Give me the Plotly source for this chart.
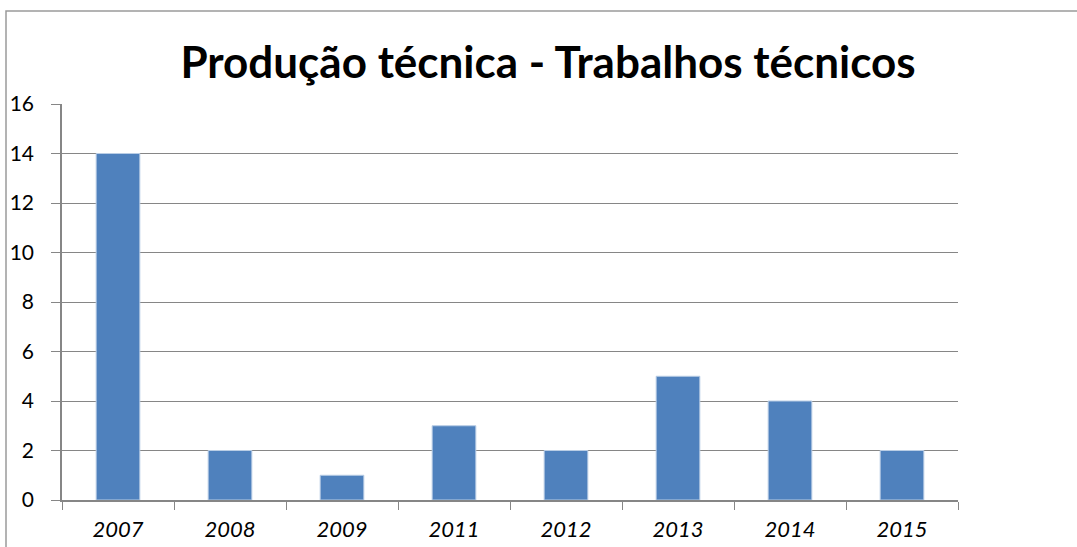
import plotly.graph_objects as go

years = ["2007", "2008", "2009", "2011", "2012", "2013", "2014", "2015"]
values = [14, 2, 1, 3, 2, 5, 4, 2]
y_ticks = [0, 2, 4, 6, 8, 10, 12, 14, 16]
title_text = "Produção técnica - Trabalhos técnicos"

W, H = 1077, 547
L, T = 62, 104
pw, ph = 896, 396
R = W - L - pw
B = H - T - ph

fig = go.Figure(go.Bar(
    x=years, y=values,
    marker=dict(color="#4F81BD", line=dict(color="#B9CDE5", width=1)),
    width=0.39,
))

def px2x(px):
    return (px - L) / pw

def py2y(py):
    return (T + ph - py) / ph

fig.update_layout(
    width=W, height=H,
    margin=dict(l=L, r=R, t=T, b=B, autoexpand=False),
    paper_bgcolor="white", plot_bgcolor="white",
    showlegend=False,
    font=dict(family="Lato, Open Sans, sans-serif", color="black"),
    title=dict(text=title_text, x=548 / W, xanchor="center",
               y=1 - 63 / H, yanchor="middle",
               font=dict(size=44, family="Lato, Open Sans, sans-serif", weight="bold", color="black")),
    xaxis=dict(
        type="category", tickson="boundaries", ticks="outside", ticklen=8, tickcolor="#868686",
        showline=True, linecolor="#868686", linewidth=1.5, showgrid=False,
        tickfont=dict(size=22, style="italic", color="black"),
        ticklabelstandoff=9,
    ),
    yaxis=dict(
        range=[0, 16], tickvals=y_ticks, ticks="outside", ticklen=9, tickcolor="#868686",
        showline=True, linecolor="#868686", linewidth=1.5,
        showgrid=True, gridcolor="#868686", gridwidth=1.2, zeroline=False,
        tickfont=dict(size=21, color="black"),
        ticklabelstandoff=13,
    ),
    shapes=[dict(type="rect", xref="paper", yref="paper",
                 x0=px2x(6), x1=px2x(1200), y0=py2y(700), y1=py2y(11),
                 line=dict(color="#9A9A9A", width=1.5), layer="below")],
)

fig.write_html("out.html", config={"displayModeBar": False},
               post_script="document.body.style.margin='0';")
